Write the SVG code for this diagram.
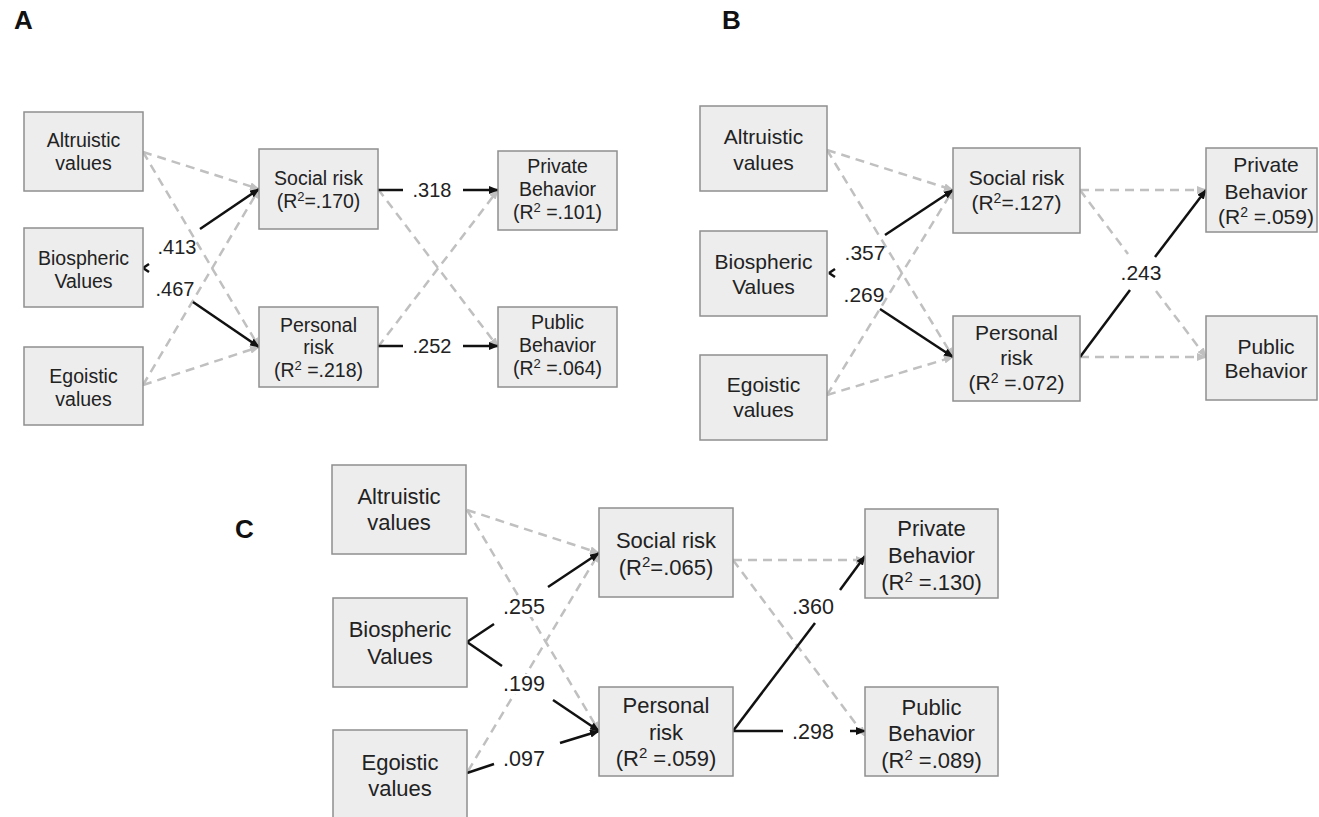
<svg xmlns="http://www.w3.org/2000/svg" width="1319" height="817" viewBox="0 0 1319 817">
<style>
.box{fill:#ededed;stroke:#8f8f8f;stroke-width:1.5}
text{font-family:"Liberation Sans",Arial,sans-serif;fill:#222;text-anchor:middle}
.a text{font-size:19.5px}
.b text{font-size:21px}
.c text{font-size:22px}
.lab{font-size:20px}
.labb{font-size:21px}
.labc{font-size:21.5px}
.pl{font-size:26px;font-weight:bold;text-anchor:start;fill:#111}
.d{stroke:#c0c0c0;stroke-width:2.5;stroke-dasharray:9 6;fill:none}
.s{stroke:#111;stroke-width:2.5;fill:none}
.wb{fill:#fff}
</style>
<defs>
<marker id="ab" viewBox="0 0 10 8" refX="9" refY="4" markerWidth="10" markerHeight="8" markerUnits="userSpaceOnUse" orient="auto"><path d="M0,0L10,4L0,8z" fill="#111"/></marker>
<marker id="ag" viewBox="0 0 10 8" refX="9" refY="4" markerWidth="10" markerHeight="8" markerUnits="userSpaceOnUse" orient="auto"><path d="M0,0L10,4L0,8z" fill="#c0c0c0"/></marker>
</defs>
<rect width="1319" height="817" fill="#fff"/>
<text class="pl" x="14" y="29">A</text>
<text class="pl" x="722" y="29">B</text>
<text class="pl" x="235" y="538">C</text>

<g id="connectors">
<!-- Panel A -->
<line class="d" x1="143" y1="152" x2="259" y2="189" marker-end="url(#ag)"/>
<line class="d" x1="143" y1="152" x2="259" y2="347" marker-end="url(#ag)"/>
<line class="d" x1="143" y1="385" x2="259" y2="189" marker-end="url(#ag)"/>
<line class="d" x1="143" y1="385" x2="259" y2="347" marker-end="url(#ag)"/>
<line class="d" x1="378" y1="189" x2="498" y2="347" marker-end="url(#ag)"/>
<line class="d" x1="378" y1="347" x2="498" y2="190" marker-end="url(#ag)"/>
<line class="s" x1="143" y1="268" x2="149" y2="264"/>
<line class="s" x1="200" y1="229" x2="259" y2="189" marker-end="url(#ab)"/>
<line class="s" x1="143" y1="268" x2="149" y2="272"/>
<line class="s" x1="193" y1="302" x2="259" y2="347" marker-end="url(#ab)"/>
<line class="s" x1="378" y1="190" x2="403" y2="190"/>
<line class="s" x1="463" y1="190" x2="498" y2="190" marker-end="url(#ab)"/>
<line class="s" x1="378" y1="346" x2="403" y2="346"/>
<line class="s" x1="463" y1="346" x2="498" y2="346" marker-end="url(#ab)"/>
<text class="lab" x="177" y="254">.413</text>
<text class="lab" x="175" y="296">.467</text>
<text class="lab" x="432" y="197">.318</text>
<text class="lab" x="432" y="353">.252</text>
<!-- Panel B -->
<line class="d" x1="827" y1="150" x2="953" y2="190" marker-end="url(#ag)"/>
<line class="d" x1="827" y1="150" x2="953" y2="357" marker-end="url(#ag)"/>
<line class="d" x1="827" y1="395" x2="953" y2="190" marker-end="url(#ag)"/>
<line class="d" x1="827" y1="395" x2="953" y2="357" marker-end="url(#ag)"/>
<line class="d" x1="1080" y1="190" x2="1206" y2="190" marker-end="url(#ag)"/>
<line class="d" x1="1080" y1="190" x2="1128" y2="254"/>
<line class="d" x1="1156" y1="291" x2="1206" y2="357" marker-end="url(#ag)"/>
<line class="d" x1="1080" y1="357" x2="1206" y2="357" marker-end="url(#ag)"/>
<line class="s" x1="829" y1="273" x2="835" y2="269"/>
<line class="s" x1="885" y1="235" x2="953" y2="190" marker-end="url(#ab)"/>
<line class="s" x1="829" y1="273" x2="835" y2="277"/>
<line class="s" x1="880" y1="309" x2="953" y2="357" marker-end="url(#ab)"/>
<line class="s" x1="1080" y1="357" x2="1130" y2="290"/>
<line class="s" x1="1155" y1="257" x2="1206" y2="190" marker-end="url(#ab)"/>
<text class="labb" x="865" y="260">.357</text>
<text class="labb" x="864" y="302">.269</text>
<text class="labb" x="1141" y="280">.243</text>
<!-- Panel C -->
<line class="d" x1="467" y1="510" x2="599" y2="553" marker-end="url(#ag)"/>
<line class="d" x1="467" y1="510" x2="599" y2="731" marker-end="url(#ag)"/>
<line class="d" x1="468" y1="771" x2="599" y2="553" marker-end="url(#ag)"/>
<line class="d" x1="733" y1="560" x2="865" y2="560" marker-end="url(#ag)"/>
<line class="d" x1="733" y1="560" x2="865" y2="736" marker-end="url(#ag)"/>
<line class="s" x1="467" y1="642" x2="494" y2="624"/>
<line class="s" x1="548" y1="587" x2="599" y2="553" marker-end="url(#ab)"/>
<line class="s" x1="467" y1="642" x2="502" y2="666"/>
<line class="s" x1="553" y1="700" x2="599" y2="731" marker-end="url(#ab)"/>
<line class="s" x1="467" y1="773" x2="494" y2="764"/>
<line class="s" x1="560" y1="743" x2="599" y2="731" marker-end="url(#ab)"/>
<line class="s" x1="733" y1="731" x2="815" y2="623"/>
<line class="s" x1="840" y1="590" x2="865" y2="556" marker-end="url(#ab)"/>
<line class="s" x1="733" y1="731" x2="783" y2="731"/>
<line class="s" x1="850" y1="731" x2="865" y2="731" marker-end="url(#ab)"/>
<rect class="wb" x="502" y="597" width="44" height="20"/>
<rect class="wb" x="502" y="674" width="44" height="20"/>
<rect class="wb" x="502" y="748" width="44" height="20"/>
<text class="labc" x="524" y="614">.255</text>
<text class="labc" x="524" y="691">.199</text>
<text class="labc" x="524" y="766">.097</text>
<text class="labc" x="813" y="614">.360</text>
<text class="labc" x="813" y="739">.298</text>
</g>

<g class="a">
<g id="A_altruistic"><rect class="box" x="24" y="112" width="119" height="79"/><text x="83.5" y="147">Altruistic</text><text x="83.5" y="170">values</text></g>
<g id="A_biospheric"><rect class="box" x="24" y="228" width="119" height="79"/><text x="83.5" y="265">Biospheric</text><text x="83.5" y="288">Values</text></g>
<g id="A_egoistic"><rect class="box" x="24" y="347" width="119" height="78"/><text x="83.5" y="383">Egoistic</text><text x="83.5" y="406">values</text></g>
<g id="A_social"><rect class="box" x="259" y="149" width="119" height="80"/><text x="318.5" y="185">Social risk</text><text x="318.5" y="208">(R<tspan font-size="13" dy="-7">2</tspan><tspan dy="7">=.170)</tspan></text></g>
<g id="A_personal"><rect class="box" x="259" y="307" width="119" height="80"/><text x="318.5" y="332">Personal</text><text x="318.5" y="354">risk</text><text x="318.5" y="377">(R<tspan font-size="13" dy="-7">2</tspan><tspan dy="7"> =.218)</tspan></text></g>
<g id="A_private"><rect class="box" x="498" y="151" width="119" height="79"/><text x="557.5" y="173">Private</text><text x="557.5" y="196">Behavior</text><text x="557.5" y="219">(R<tspan font-size="13" dy="-7">2</tspan><tspan dy="7"> =.101)</tspan></text></g>
<g id="A_public"><rect class="box" x="498" y="307" width="119" height="80"/><text x="557.5" y="329">Public</text><text x="557.5" y="352">Behavior</text><text x="557.5" y="375">(R<tspan font-size="13" dy="-7">2</tspan><tspan dy="7"> =.064)</tspan></text></g>
</g>

<g class="b">
<g id="B_altruistic"><rect class="box" x="700" y="106" width="127" height="85"/><text x="763.5" y="144">Altruistic</text><text x="763.5" y="170">values</text></g>
<g id="B_biospheric"><rect class="box" x="700" y="231" width="127" height="85"/><text x="763.5" y="269">Biospheric</text><text x="763.5" y="294">Values</text></g>
<g id="B_egoistic"><rect class="box" x="700" y="355" width="127" height="85"/><text x="763.5" y="392">Egoistic</text><text x="763.5" y="417">values</text></g>
<g id="B_social"><rect class="box" x="953" y="148" width="127" height="85"/><text x="1016.5" y="185">Social risk</text><text x="1016.5" y="210">(R<tspan font-size="14" dy="-7">2</tspan><tspan dy="7">=.127)</tspan></text></g>
<g id="B_personal"><rect class="box" x="953" y="316" width="127" height="85"/><text x="1016.5" y="340">Personal</text><text x="1016.5" y="365">risk</text><text x="1016.5" y="390">(R<tspan font-size="14" dy="-7">2</tspan><tspan dy="7"> =.072)</tspan></text></g>
<g id="B_private"><rect class="box" x="1206" y="148" width="111" height="84"/><text x="1266" y="172">Private</text><text x="1266" y="199">Behavior</text><text x="1266" y="224">(R<tspan font-size="14" dy="-7">2</tspan><tspan dy="7"> =.059)</tspan></text></g>
<g id="B_public"><rect class="box" x="1206" y="316" width="111" height="84"/><text x="1266" y="354">Public</text><text x="1266" y="378">Behavior</text></g>
</g>

<g class="c">
<g id="C_altruistic"><rect class="box" x="332" y="465" width="134" height="89"/><text x="399" y="504">Altruistic</text><text x="399" y="530">values</text></g>
<g id="C_biospheric"><rect class="box" x="333" y="598" width="134" height="89"/><text x="400" y="637">Biospheric</text><text x="400" y="664">Values</text></g>
<g id="C_egoistic"><rect class="box" x="333" y="730" width="134" height="90"/><text x="400" y="770">Egoistic</text><text x="400" y="796">values</text></g>
<g id="C_social"><rect class="box" x="599" y="508" width="134" height="89"/><text x="666" y="548">Social risk</text><text x="666" y="575">(R<tspan font-size="15" dy="-8">2</tspan><tspan dy="8">=.065)</tspan></text></g>
<g id="C_personal"><rect class="box" x="599" y="687" width="134" height="89"/><text x="666" y="713">Personal</text><text x="666" y="740">risk</text><text x="666" y="766">(R<tspan font-size="15" dy="-8">2</tspan><tspan dy="8"> =.059)</tspan></text></g>
<g id="C_private"><rect class="box" x="865" y="509" width="133" height="89"/><text x="931.5" y="536">Private</text><text x="931.5" y="563">Behavior</text><text x="931.5" y="590">(R<tspan font-size="15" dy="-8">2</tspan><tspan dy="8"> =.130)</tspan></text></g>
<g id="C_public"><rect class="box" x="865" y="687" width="133" height="89"/><text x="931.5" y="715">Public</text><text x="931.5" y="741">Behavior</text><text x="931.5" y="768">(R<tspan font-size="15" dy="-8">2</tspan><tspan dy="8"> =.089)</tspan></text></g>
</g>
</svg>
